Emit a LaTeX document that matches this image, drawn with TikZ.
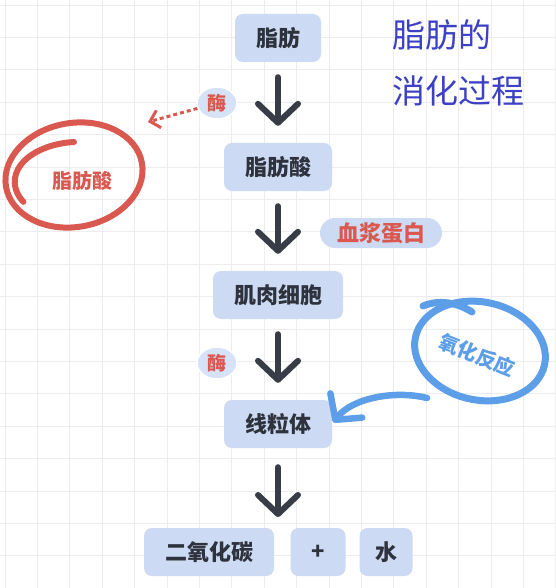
\documentclass[tikz,border=0pt]{standalone}
\usepackage{fontspec}
\usetikzlibrary{arrows.meta,shapes.geometric}
\newfontfamily\cjk{Noto Sans CJK SC}

\newlength{\du}
\setlength{\du}{1pt}

\definecolor{gridgray}{rgb}{0.925000, 0.925000, 0.930000}
\definecolor{boxblue}{rgb}{0.800000, 0.858000, 0.952000}
\definecolor{inkdark}{rgb}{0.180000, 0.195000, 0.235000}
\definecolor{arrowdark}{rgb}{0.215000, 0.235000, 0.280000}
\definecolor{markred}{rgb}{0.850000, 0.345000, 0.310000}
\definecolor{markblue}{rgb}{0.365000, 0.620000, 0.910000}
\definecolor{titleblue}{rgb}{0.235000, 0.250000, 0.770000}

\tikzset{
  gridline/.style={draw=gridgray, line width=0.9\du},
  stagebox/.style={fill=boxblue, rounded corners=8\du, minimum height=48\du,
    inner xsep=21\du, inner ysep=0\du, text=inkdark,
    font=\cjk\bfseries\fontsize{22}{22}\selectfont},
  enzymetag/.style={ellipse, fill=boxblue!80, draw=white, line width=1.5\du,
    minimum width=40\du, minimum height=32\du, inner sep=0\du, text=markred,
    font=\cjk\bfseries\fontsize{19}{19}\selectfont},
  carriertag/.style={fill=boxblue, rounded corners=15\du, minimum height=30\du,
    inner xsep=17\du, inner ysep=0\du, text=markred,
    font=\cjk\bfseries\fontsize{22}{22}\selectfont},
  looplabel/.style={inner sep=0\du, font=\cjk\bfseries\fontsize{20}{20}\selectfont},
  titletext/.style={anchor=west, inner sep=0\du, text=titleblue,
    font=\cjk\fontsize{33}{33}\selectfont},
  downarrow/.style={draw=arrowdark, line width=6\du, line cap=round, line join=round,
    -{Straight Barb[length=19pt, width=40pt, round]},
    shorten <=15\du, shorten >=17\du},
  enzymelink/.style={draw=markred, line width=3\du, dash pattern=on 4pt off 3pt,
    -{Straight Barb[length=9pt, width=18pt]}},
  oxarrow/.style={draw=markblue, line width=6.5\du, line cap=round, line join=round,
    -{Straight Barb[length=18pt, width=40pt, round]}, shorten >=2\du},
}

\begin{document}
\begin{tikzpicture}
\pgftransformxscale{1.000000}
\pgftransformyscale{-1.000000}
\useasboundingbox (0\du,0\du) rectangle (555\du,588\du);
\fill[white] (0\du,0\du) rectangle (555\du,588\du);
% paper grid
\foreach \gx [evaluate=\gx as \gpos using 5+32.4*\gx] in {0,...,17}
  \draw[gridline] (\gpos\du,0\du) -- (\gpos\du,588\du);
\foreach \gy [evaluate=\gy as \gpos using 5+32.4*\gy] in {0,...,18}
  \draw[gridline] (0\du,\gpos\du) -- (555\du,\gpos\du);

% title
\node[titletext] (titleA) at (392\du,35\du) {脂肪的};
\node[titletext] (titleB) at (392\du,91\du) {消化过程};

% main chain
\node[stagebox] (fat) at (278\du,38\du) {脂肪};
\node[stagebox] (fattyacid) at (278\du,167\du) {脂肪酸};
\node[stagebox] (muscle) at (278\du,295\du) {肌肉细胞};
\node[stagebox] (mito) at (278\du,424\du) {线粒体};
\node[stagebox] (co2) at (209\du,552\du) {二氧化碳};
\node[stagebox, minimum width=55\du, inner xsep=0\du] (plus) at (318\du,552\du) {+};
\node[stagebox, minimum width=53\du, inner xsep=0\du] (water) at (386\du,552\du) {水};
\coordinate (products) at (278\du,528\du);

\draw[downarrow] (fat) -- (fattyacid);
\draw[downarrow] (fattyacid) -- (muscle);
\draw[downarrow] (muscle) -- (mito);
\draw[downarrow, shorten <=19\du, shorten >=11\du] (mito) -- (products);

% side tags
\node[enzymetag] (enzA) at (217\du,103\du) {酶};
\node[enzymetag] (enzB) at (217\du,363\du) {酶};
\node[carriertag] (plasma) at (381\du,233\du) {血浆蛋白};

% red loop
\definecolor{dialinecolor}{rgb}{0.850000, 0.345000, 0.310000}
\pgfsetstrokecolor{dialinecolor}
\draw[line width=6\du, rotate around={-10:(74\du,175\du)}] (74\du,175\du) ellipse [x radius=69\du, y radius=52\du];
\draw[line width=6\du, line cap=round] (74\du,142\du) arc [start angle=265, end angle=150, x radius=65\du, y radius=40\du];
\node[looplabel, text=markred] (ffalabel) at (82\du,181\du) {脂肪酸};
\coordinate (ffaTip) at (148\du,122\du);
\draw[enzymelink] (enzA) -- (ffaTip);

% blue loop
\definecolor{dialinecolor}{rgb}{0.365000, 0.620000, 0.910000}
\pgfsetstrokecolor{dialinecolor}
\draw[line width=7\du, rotate around={12:(480\du,351\du)}] (480\du,351\du) ellipse [x radius=66\du, y radius=49\du];
\draw[line width=7\du, line cap=round] (423\du,306\du) .. controls (440\du,299\du) and (458\du,303\du) .. (472\du,312\du);
\node[looplabel, text=markblue, rotate=-22] (oxlabel) at (477\du,355\du) {氧化反应};
\coordinate (oxTail) at (427\du,398\du);
\draw[oxarrow] (oxTail) .. controls (395\du,390\du) and (352\du,398\du) .. (mito.east);
\end{tikzpicture}
\end{document}
